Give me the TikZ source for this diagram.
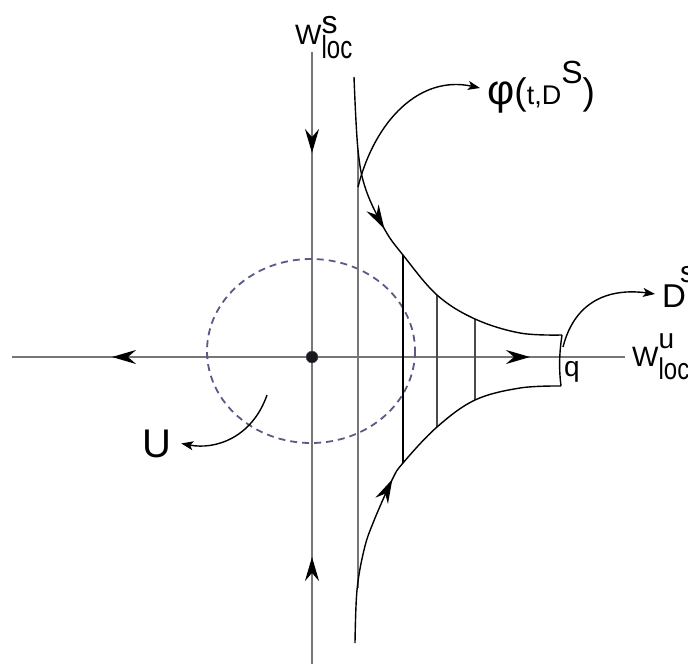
\documentclass[tikz,border=0pt]{standalone}
\usepackage{fontspec}
\setmainfont{Liberation Sans}
\usepackage{tikz}
\usetikzlibrary{arrows.meta,positioning,decorations.markings}
\definecolor{axisgray}{HTML}{767676}
\definecolor{slicegray}{HTML}{4A4A4A}
\definecolor{nbhdblue}{HTML}{5A5A86}
\newcommand{\fsz}[1]{\fontsize{#1}{#1}\selectfont}

\tikzset{
  axis/.style={draw=axisgray,line width=1.8pt},
  flowline/.style={line width=1.4pt},
  slice/.style={line width=1.2pt},
  lbl/.style={inner sep=0pt,anchor=base west},
  flowtip/.style={postaction=decorate,decoration={markings,
      mark=at position #1 with {\arrow{Stealth[length=24pt,width=14pt,inset=8pt,color=black,fill=black]}}}},
}

\begin{document}
\begin{tikzpicture}[x=1pt,y=-1pt,>={Stealth[length=12pt,width=9pt,inset=3pt]}]
        \useasboundingbox (0,0) rectangle (688,664);
        % axes
        \coordinate (xl) at (12,357);
        \coordinate (xr) at (625,357);
        \coordinate (yt) at (312,52);
        \coordinate (yb) at (312,664);
        \coordinate (oc) at (312,357);
        \draw[axis,flowtip=200pt] (oc) -- (xl);
        \draw[axis,flowtip=218pt] (oc) -- (xr);
        \draw[axis,flowtip=101pt] (yt) -- (oc);
        \draw[axis,flowtip=107pt] (yb) -- (oc);
        % neighbourhood U
        \draw[nbhdblue,line width=1.8pt,dash pattern=on 7pt off 5pt] (311,351) ellipse [x radius=104,y radius=92];
        \node[circle,fill=black!90,draw=nbhdblue,minimum size=12pt,inner sep=0pt] (o) at (oc) {};
        % flow tube
        \draw[axisgray,slice] (358,150) -- (358,588);
        \draw[slice] (403,255) -- (403,463);
        \draw[slicegray,slice] (437,295) -- (437,427);
        \draw[slicegray,slice] (475,319) -- (475,400);
        \draw[flowline,flowtip=157pt] plot[smooth,tension=0.6] coordinates {(354,77) (358,150) (366,190) (385,230) (403,255) (437,295) (475,319) (520,333) (562,335)};
        \draw[flowline,flowtip=170pt] plot[smooth,tension=0.6] coordinates {(355,643) (357,590) (364,550) (373,523) (392,480) (403,463) (437,427) (475,400) (520,388) (561,386)};
        \draw[flowline] (562,335) .. controls (559,355) and (559,370) .. (561,386);
        % labels
        \node[lbl] (ws) at (295,44) {\fsz{28}W\rlap{\raisebox{11pt}{\fsz{32}s}}\raisebox{-14pt}{\fsz{32}\scalebox{0.75}[1]{loc}}};
        \node[lbl] (wu) at (632,366) {\fsz{28}W\rlap{\raisebox{18pt}{\fsz{28}u}}\raisebox{-13pt}{\fsz{30}\scalebox{0.8}[1]{loc}}};
        \node[lbl] (q) at (564,376) {\fsz{28}q};
        \node[lbl] (u) at (142,457) {\fsz{40}U};
        \node[lbl] (ds) at (662,307) {\fsz{33}D\kern-6pt\raisebox{25pt}{\fsz{30}s}};
        \node[lbl] (phi) at (487,104) {{\fsz{42}φ}{\fsz{37}(}{\fsz{27}t,D}\raisebox{21pt}{\fsz{32}S}{\fsz{37})}};
        % pointers
        \coordinate (phistart) at (358,187);
        \coordinate (dstart) at (563,347);
        \coordinate (ustart) at (267,395);
        \draw[->,line width=1.4pt] (phistart) .. controls (375,120) and (420,75) .. (480,88);
        \draw[->,line width=1.4pt] (dstart) .. controls (575,300) and (610,288) .. (655,294);
        \draw[->,line width=1.4pt] (ustart) .. controls (252,438) and (215,450) .. ([xshift=10pt]u.east);
      \end{tikzpicture}
\end{document}
